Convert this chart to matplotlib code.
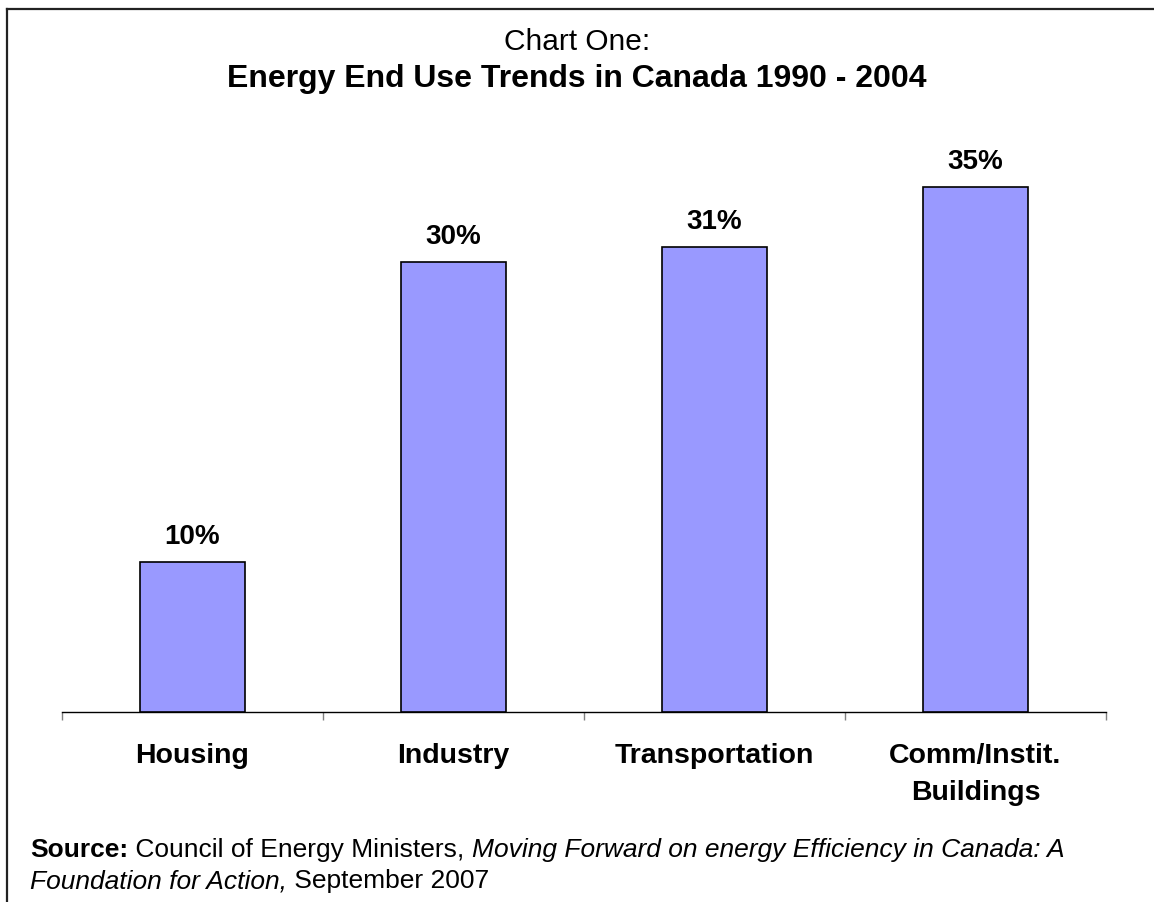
import matplotlib
matplotlib.use("Agg")
import matplotlib.pyplot as plt
from matplotlib.lines import Line2D
from matplotlib.transforms import blended_transform_factory

plt.rcParams['font.family'] = ['Liberation Sans', 'DejaVu Sans']

categories = ['Housing', 'Industry', 'Transportation', 'Comm/Instit.\nBuildings']
values = [10, 30, 31, 35]

title_top = 'Chart One:'
title_main = 'Energy End Use Trends in Canada 1990 - 2004'

# (text, style, weight)
source_line1 = [('Source:', 'normal', 'bold'),
                (' Council of Energy Ministers, ', 'normal', 'normal'),
                ('Moving Forward on energy Efficiency in Canada: A', 'italic', 'normal')]
source_line2 = [('Foundation for Action,', 'italic', 'normal'),
                (' September 2007', 'normal', 'normal')]

W, H = 1154, 902
fig = plt.figure(figsize=(W / 100, H / 100), dpi=100)

def fy(px):
    # pixel row from top -> figure fraction
    return 1 - px / H

# plot area: x 62..1106 px, axis line at row 712, 15 px per percent
ax = fig.add_axes([62 / W, fy(712), 1044 / W, 600 / H])
x = list(range(len(categories)))
ax.bar(x, values, width=0.40, color='#9999FF', edgecolor='black', linewidth=1.2, zorder=3)
ax.set_xlim(-0.5, len(categories) - 0.5)
ax.set_ylim(0, 40)

for xi, v in zip(x, values):
    ax.annotate(f'{v}%', xy=(xi, v), xytext=(0, 13), textcoords='offset points',
                ha='center', va='baseline', fontsize=20, fontweight='bold')

for s in ['top', 'left', 'right']:
    ax.spines[s].set_visible(False)
ax.spines['bottom'].set_linewidth(1)
ax.set_yticks([])
ax.set_xticks([i - 0.5 for i in range(len(categories) + 1)])
ax.set_xticklabels([])
ax.tick_params(axis='x', length=6, width=1, color='#808080', direction='out')

# category labels, baseline of first line at row 763, 37 px per line
lab_tr = blended_transform_factory(ax.transData, fig.transFigure)
for xi, cat in zip(x, categories):
    for j, line in enumerate(cat.split('\n')):
        ax.text(xi, fy(763 + 37 * j), line, transform=lab_tr, ha='center', va='baseline',
                fontsize=20.5, fontweight='bold')

fig.text(577 / W, fy(50), title_top, ha='center', va='baseline', fontsize=21.5)
fig.text(577 / W, fy(87), title_main, ha='center', va='baseline', fontsize=23, fontweight='bold')

# source note: pieces of mixed style laid end to end on one baseline
renderer = fig.canvas.get_renderer()
def rich_line(parts, x0, base):
    xpos = x0
    for txt, st, wt in parts:
        t = fig.text(xpos / W, fy(base), txt, style=st, weight=wt, fontsize=19,
                     ha='left', va='baseline')
        xpos += t.get_window_extent(renderer).width

rich_line(source_line1, 30, 857)
rich_line(source_line2, 30, 888)

# frame lines (left and top only)
fig.add_artist(Line2D([7 / W, 7 / W], [0, fy(9)], transform=fig.transFigure,
                      color='#222222', linewidth=1.6))
fig.add_artist(Line2D([7 / W, 1], [fy(9), fy(9)], transform=fig.transFigure,
                      color='#222222', linewidth=1.6))

fig.savefig('out.png', dpi=100)
